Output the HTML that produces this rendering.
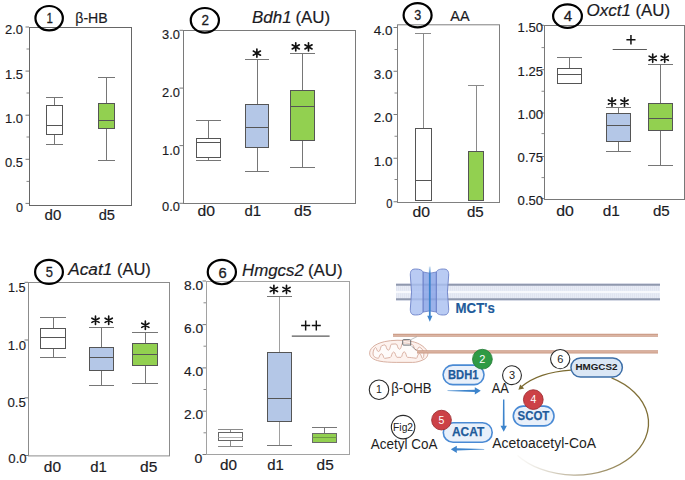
<!DOCTYPE html>
<html><head><meta charset="utf-8"><style>
html,body{margin:0;padding:0;background:#fff;overflow:hidden;width:685px;height:480px;}
svg{display:block;}
text{font-family:"Liberation Sans", sans-serif;} .pt text{stroke:#1b1b1f;stroke-width:0.18px;} .pt text.cn{stroke-width:0.3px;} .pt text.yl{stroke-width:0.15px;}
</style></head><body>
<svg width="685" height="480" viewBox="0 0 685 480">
<rect width="685" height="480" fill="#fff"/>
<g class="pt">
<rect x="29.5" y="27.5" width="102" height="178" fill="none" stroke="#666" stroke-width="1"/>
<line x1="25.5" y1="27" x2="29" y2="27" stroke="#7a7a7a" stroke-width="1"/>
<line x1="25.5" y1="71.1" x2="29" y2="71.1" stroke="#7a7a7a" stroke-width="1"/>
<line x1="25.5" y1="115.2" x2="29" y2="115.2" stroke="#7a7a7a" stroke-width="1"/>
<line x1="25.5" y1="159.3" x2="29" y2="159.3" stroke="#7a7a7a" stroke-width="1"/>
<line x1="25.5" y1="203.4" x2="29" y2="203.4" stroke="#7a7a7a" stroke-width="1"/>
<line x1="26.5" y1="49" x2="29" y2="49" stroke="#8a8a8a" stroke-width="1"/>
<line x1="26.5" y1="93" x2="29" y2="93" stroke="#8a8a8a" stroke-width="1"/>
<line x1="26.5" y1="137" x2="29" y2="137" stroke="#8a8a8a" stroke-width="1"/>
<line x1="26.5" y1="181.4" x2="29" y2="181.4" stroke="#8a8a8a" stroke-width="1"/>
<text x="5.00" y="34.10" font-size="12.6" class="yl" textLength="18.00" lengthAdjust="spacingAndGlyphs" fill="#1b1b1f">2.0</text>
<text x="5.00" y="78.50" font-size="12.6" class="yl" textLength="18.00" lengthAdjust="spacingAndGlyphs" fill="#1b1b1f">1.5</text>
<text x="5.00" y="122.90" font-size="12.6" class="yl" textLength="18.00" lengthAdjust="spacingAndGlyphs" fill="#1b1b1f">1.0</text>
<text x="5.00" y="167.20" font-size="12.6" class="yl" textLength="18.00" lengthAdjust="spacingAndGlyphs" fill="#1b1b1f">0.5</text>
<text x="16.00" y="211.60" font-size="12.6" class="yl" textLength="7.00" lengthAdjust="spacingAndGlyphs" fill="#1b1b1f">0</text>
<text x="44.60" y="220.00" font-size="14" textLength="16.70" lengthAdjust="spacingAndGlyphs" fill="#1b1b1f">d0</text>
<text x="98.70" y="220.00" font-size="14" textLength="16.30" lengthAdjust="spacingAndGlyphs" fill="#1b1b1f">d5</text>
<ellipse cx="49.15" cy="18.2" rx="13.7" ry="12.2" fill="none" stroke="#000" stroke-width="2.2"/>
<text x="46.40" y="23.10" font-size="15.5" class="cn" textLength="6.40" lengthAdjust="spacingAndGlyphs" fill="#1b1b1f">1</text>
<text x="75.30" y="23.10" font-size="14" textLength="32.40" lengthAdjust="spacingAndGlyphs" fill="#1b1b1f">β-HB</text>
<line x1="54.5" y1="97.5" x2="54.5" y2="105.5" stroke="#767676" stroke-width="1"/>
<line x1="46.0" y1="97.5" x2="63.0" y2="97.5" stroke="#767676" stroke-width="1"/>
<line x1="54.5" y1="134.5" x2="54.5" y2="144.5" stroke="#767676" stroke-width="1"/>
<line x1="46.0" y1="144.5" x2="63.0" y2="144.5" stroke="#767676" stroke-width="1"/>
<rect x="46.5" y="105.5" width="16.0" height="29.0" fill="#fff" stroke="#555555" stroke-width="1"/>
<line x1="46.5" y1="125.5" x2="62.5" y2="125.5" stroke="#555555" stroke-width="1"/>
<line x1="106.5" y1="77.5" x2="106.5" y2="103.5" stroke="#767676" stroke-width="1"/>
<line x1="98.0" y1="77.5" x2="115.0" y2="77.5" stroke="#767676" stroke-width="1"/>
<line x1="106.5" y1="128.5" x2="106.5" y2="160.5" stroke="#767676" stroke-width="1"/>
<line x1="98.0" y1="160.5" x2="115.0" y2="160.5" stroke="#767676" stroke-width="1"/>
<rect x="98.5" y="103.5" width="16.0" height="25.0" fill="#92d050" stroke="#555555" stroke-width="1"/>
<line x1="98.5" y1="120.5" x2="114.5" y2="120.5" stroke="#555555" stroke-width="1"/>
<rect x="183.5" y="30.5" width="172" height="173" fill="none" stroke="#7a7a7a" stroke-width="1"/>
<line x1="179.5" y1="30.3" x2="183" y2="30.3" stroke="#7a7a7a" stroke-width="1"/>
<line x1="179.5" y1="88.1" x2="183" y2="88.1" stroke="#7a7a7a" stroke-width="1"/>
<line x1="179.5" y1="145.6" x2="183" y2="145.6" stroke="#7a7a7a" stroke-width="1"/>
<line x1="179.5" y1="203.3" x2="183" y2="203.3" stroke="#7a7a7a" stroke-width="1"/>
<text x="162.10" y="38.80" font-size="12.6" class="yl" textLength="17.90" lengthAdjust="spacingAndGlyphs" fill="#1b1b1f">3.0</text>
<text x="162.10" y="96.80" font-size="12.6" class="yl" textLength="17.90" lengthAdjust="spacingAndGlyphs" fill="#1b1b1f">2.0</text>
<text x="162.10" y="154.60" font-size="12.6" class="yl" textLength="17.90" lengthAdjust="spacingAndGlyphs" fill="#1b1b1f">1.0</text>
<text x="162.10" y="210.80" font-size="12.6" class="yl" textLength="17.90" lengthAdjust="spacingAndGlyphs" fill="#1b1b1f">0.0</text>
<text x="197.50" y="215.60" font-size="14" textLength="17.50" lengthAdjust="spacingAndGlyphs" fill="#1b1b1f">d0</text>
<text x="244.40" y="215.60" font-size="14" textLength="16.60" lengthAdjust="spacingAndGlyphs" fill="#1b1b1f">d1</text>
<text x="294.00" y="215.60" font-size="14" textLength="17.60" lengthAdjust="spacingAndGlyphs" fill="#1b1b1f">d5</text>
<ellipse cx="204.85" cy="20.3" rx="14.1" ry="12.3" fill="none" stroke="#000" stroke-width="2.2"/>
<text x="201.40" y="25.20" font-size="15.5" class="cn" textLength="7.50" lengthAdjust="spacingAndGlyphs" fill="#1b1b1f">2</text>
<text x="252.10" y="23.40" font-size="16" textLength="39.50" lengthAdjust="spacingAndGlyphs" font-style="italic" fill="#1b1b1f">Bdh1</text>
<text x="295.40" y="23.40" font-size="16" textLength="34.70" lengthAdjust="spacingAndGlyphs" fill="#1b1b1f">(AU)</text>
<line x1="208.5" y1="120.5" x2="208.5" y2="138.5" stroke="#767676" stroke-width="1"/>
<line x1="196.0" y1="120.5" x2="221.0" y2="120.5" stroke="#767676" stroke-width="1"/>
<line x1="208.5" y1="157.5" x2="208.5" y2="160.5" stroke="#767676" stroke-width="1"/>
<line x1="196.0" y1="160.5" x2="221.0" y2="160.5" stroke="#767676" stroke-width="1"/>
<rect x="196.5" y="138.5" width="24.0" height="19.0" fill="#fff" stroke="#555555" stroke-width="1"/>
<line x1="196.5" y1="142.5" x2="220.5" y2="142.5" stroke="#555555" stroke-width="1"/>
<line x1="257.5" y1="59.5" x2="257.5" y2="104.5" stroke="#767676" stroke-width="1"/>
<line x1="245.0" y1="59.5" x2="269.0" y2="59.5" stroke="#767676" stroke-width="1"/>
<line x1="257.5" y1="147.5" x2="257.5" y2="171.5" stroke="#767676" stroke-width="1"/>
<line x1="245.0" y1="171.5" x2="269.0" y2="171.5" stroke="#767676" stroke-width="1"/>
<rect x="245.5" y="104.5" width="23.0" height="43.0" fill="#b4c7e7" stroke="#555555" stroke-width="1"/>
<line x1="245.5" y1="127.5" x2="268.5" y2="127.5" stroke="#555555" stroke-width="1"/>
<line x1="302.5" y1="53.5" x2="302.5" y2="90.5" stroke="#767676" stroke-width="1"/>
<line x1="290.0" y1="53.5" x2="315.0" y2="53.5" stroke="#767676" stroke-width="1"/>
<line x1="302.5" y1="140.5" x2="302.5" y2="167.5" stroke="#767676" stroke-width="1"/>
<line x1="290.0" y1="167.5" x2="315.0" y2="167.5" stroke="#767676" stroke-width="1"/>
<rect x="290.5" y="90.5" width="24.0" height="50.0" fill="#92d050" stroke="#555555" stroke-width="1"/>
<line x1="290.5" y1="106.5" x2="314.5" y2="106.5" stroke="#555555" stroke-width="1"/>
<path d="M256.88,48.98L256.88,57.27M253.28,51.05L260.47,55.20M260.47,51.05L253.28,55.20" stroke="#111" stroke-width="1.65" stroke-linecap="round" fill="none"/>
<path d="M295.75,42.73L295.75,51.02M292.16,44.80L299.34,48.95M299.34,44.80L292.16,48.95" stroke="#111" stroke-width="1.65" stroke-linecap="round" fill="none"/>
<path d="M308.50,42.73L308.50,51.02M304.91,44.80L312.09,48.95M312.09,44.80L304.91,48.95" stroke="#111" stroke-width="1.65" stroke-linecap="round" fill="none"/>
<rect x="397.5" y="24.8" width="102" height="177.7" fill="none" stroke="#808080" stroke-width="1"/>
<line x1="393.5" y1="27.5" x2="397" y2="27.5" stroke="#7a7a7a" stroke-width="1"/>
<line x1="393.5" y1="71.25" x2="397" y2="71.25" stroke="#7a7a7a" stroke-width="1"/>
<line x1="393.5" y1="114.5" x2="397" y2="114.5" stroke="#7a7a7a" stroke-width="1"/>
<line x1="393.5" y1="158.25" x2="397" y2="158.25" stroke="#7a7a7a" stroke-width="1"/>
<line x1="393.5" y1="201.75" x2="397" y2="201.75" stroke="#7a7a7a" stroke-width="1"/>
<line x1="394.5" y1="49.5" x2="397" y2="49.5" stroke="#8a8a8a" stroke-width="1"/>
<line x1="394.5" y1="93" x2="397" y2="93" stroke="#8a8a8a" stroke-width="1"/>
<line x1="394.5" y1="136.25" x2="397" y2="136.25" stroke="#8a8a8a" stroke-width="1"/>
<line x1="394.5" y1="179.5" x2="397" y2="179.5" stroke="#8a8a8a" stroke-width="1"/>
<text x="373.75" y="35.10" font-size="12.6" class="yl" textLength="18.75" lengthAdjust="spacingAndGlyphs" fill="#1b1b1f">4.0</text>
<text x="373.75" y="79.10" font-size="12.6" class="yl" textLength="18.75" lengthAdjust="spacingAndGlyphs" fill="#1b1b1f">3.0</text>
<text x="373.75" y="122.10" font-size="12.6" class="yl" textLength="18.75" lengthAdjust="spacingAndGlyphs" fill="#1b1b1f">2.0</text>
<text x="373.75" y="165.85" font-size="12.6" class="yl" textLength="18.75" lengthAdjust="spacingAndGlyphs" fill="#1b1b1f">1.0</text>
<text x="386.25" y="208.35" font-size="12.6" class="yl" textLength="6.25" lengthAdjust="spacingAndGlyphs" fill="#1b1b1f">0</text>
<text x="412.50" y="217.00" font-size="14" textLength="17.50" lengthAdjust="spacingAndGlyphs" fill="#1b1b1f">d0</text>
<text x="467.00" y="217.00" font-size="14" textLength="16.75" lengthAdjust="spacingAndGlyphs" fill="#1b1b1f">d5</text>
<ellipse cx="417.6" cy="15.25" rx="14.0" ry="12.1" fill="none" stroke="#000" stroke-width="2.2"/>
<text x="414.30" y="20.10" font-size="15.5" class="cn" textLength="7.00" lengthAdjust="spacingAndGlyphs" fill="#1b1b1f">3</text>
<text x="450.30" y="20.80" font-size="15" textLength="19.30" lengthAdjust="spacingAndGlyphs" fill="#1b1b1f">AA</text>
<line x1="423.5" y1="33.5" x2="423.5" y2="128.5" stroke="#8a8a8a" stroke-width="1"/>
<line x1="415.0" y1="33.5" x2="431.0" y2="33.5" stroke="#8a8a8a" stroke-width="1"/>
<rect x="415.5" y="128.5" width="16.0" height="72.0" fill="#fff" stroke="#555555" stroke-width="1"/>
<line x1="415.5" y1="180.5" x2="431.5" y2="180.5" stroke="#555555" stroke-width="1"/>
<line x1="476.5" y1="85.5" x2="476.5" y2="151.5" stroke="#8a8a8a" stroke-width="1"/>
<line x1="468.0" y1="85.5" x2="484.0" y2="85.5" stroke="#8a8a8a" stroke-width="1"/>
<rect x="468.5" y="151.5" width="15.0" height="49.0" fill="#92d050" stroke="#555555" stroke-width="1"/>
<rect x="544.5" y="25.5" width="140" height="174" fill="none" stroke="#787878" stroke-width="1"/>
<line x1="540.5" y1="25.3" x2="544" y2="25.3" stroke="#7a7a7a" stroke-width="1"/>
<line x1="540.5" y1="69.7" x2="544" y2="69.7" stroke="#7a7a7a" stroke-width="1"/>
<line x1="540.5" y1="113" x2="544" y2="113" stroke="#7a7a7a" stroke-width="1"/>
<line x1="540.5" y1="156.5" x2="544" y2="156.5" stroke="#7a7a7a" stroke-width="1"/>
<line x1="540.5" y1="198.6" x2="544" y2="198.6" stroke="#7a7a7a" stroke-width="1"/>
<line x1="541.5" y1="47.6" x2="544" y2="47.6" stroke="#8a8a8a" stroke-width="1"/>
<line x1="541.5" y1="91.25" x2="544" y2="91.25" stroke="#8a8a8a" stroke-width="1"/>
<line x1="541.5" y1="133.6" x2="544" y2="133.6" stroke="#8a8a8a" stroke-width="1"/>
<line x1="541.5" y1="177.6" x2="544" y2="177.6" stroke="#8a8a8a" stroke-width="1"/>
<text x="517.60" y="32.10" font-size="12.6" class="yl" textLength="25.50" lengthAdjust="spacingAndGlyphs" fill="#1b1b1f">1.50</text>
<text x="517.60" y="76.10" font-size="12.6" class="yl" textLength="25.50" lengthAdjust="spacingAndGlyphs" fill="#1b1b1f">1.25</text>
<text x="517.60" y="118.60" font-size="12.6" class="yl" textLength="25.50" lengthAdjust="spacingAndGlyphs" fill="#1b1b1f">1.00</text>
<text x="517.60" y="162.10" font-size="12.6" class="yl" textLength="25.50" lengthAdjust="spacingAndGlyphs" fill="#1b1b1f">0.75</text>
<text x="517.60" y="205.20" font-size="12.6" class="yl" textLength="25.50" lengthAdjust="spacingAndGlyphs" fill="#1b1b1f">0.50</text>
<text x="556.20" y="215.60" font-size="14" textLength="17.60" lengthAdjust="spacingAndGlyphs" fill="#1b1b1f">d0</text>
<text x="602.70" y="215.60" font-size="14" textLength="17.10" lengthAdjust="spacingAndGlyphs" fill="#1b1b1f">d1</text>
<text x="652.90" y="215.60" font-size="14" textLength="16.80" lengthAdjust="spacingAndGlyphs" fill="#1b1b1f">d5</text>
<ellipse cx="567.5" cy="16.1" rx="14.4" ry="11.8" fill="none" stroke="#000" stroke-width="2.2"/>
<text x="563.70" y="21.40" font-size="15.5" class="cn" textLength="8.40" lengthAdjust="spacingAndGlyphs" fill="#1b1b1f">4</text>
<text x="586.50" y="16.20" font-size="16" textLength="44.50" lengthAdjust="spacingAndGlyphs" font-style="italic" fill="#1b1b1f">Oxct1</text>
<text x="635.40" y="16.20" font-size="16" textLength="34.60" lengthAdjust="spacingAndGlyphs" fill="#1b1b1f">(AU)</text>
<line x1="569.5" y1="57.5" x2="569.5" y2="68.5" stroke="#767676" stroke-width="1"/>
<line x1="557.0" y1="57.5" x2="582.0" y2="57.5" stroke="#767676" stroke-width="1"/>
<rect x="557.5" y="68.5" width="24.0" height="15.0" fill="#fff" stroke="#555555" stroke-width="1"/>
<line x1="557.5" y1="74.5" x2="581.5" y2="74.5" stroke="#555555" stroke-width="1"/>
<line x1="618.5" y1="107.5" x2="618.5" y2="113.5" stroke="#767676" stroke-width="1"/>
<line x1="606.0" y1="107.5" x2="631.0" y2="107.5" stroke="#767676" stroke-width="1"/>
<line x1="618.5" y1="141.5" x2="618.5" y2="151.5" stroke="#767676" stroke-width="1"/>
<line x1="606.0" y1="151.5" x2="631.0" y2="151.5" stroke="#767676" stroke-width="1"/>
<rect x="606.5" y="113.5" width="24.0" height="28.0" fill="#b4c7e7" stroke="#555555" stroke-width="1"/>
<line x1="606.5" y1="125.5" x2="630.5" y2="125.5" stroke="#555555" stroke-width="1"/>
<line x1="660.5" y1="64.5" x2="660.5" y2="103.5" stroke="#767676" stroke-width="1"/>
<line x1="648.0" y1="64.5" x2="673.0" y2="64.5" stroke="#767676" stroke-width="1"/>
<line x1="660.5" y1="130.5" x2="660.5" y2="165.5" stroke="#767676" stroke-width="1"/>
<line x1="648.0" y1="165.5" x2="673.0" y2="165.5" stroke="#767676" stroke-width="1"/>
<rect x="648.5" y="103.5" width="24.0" height="27.0" fill="#92d050" stroke="#555555" stroke-width="1"/>
<line x1="648.5" y1="118.5" x2="672.5" y2="118.5" stroke="#555555" stroke-width="1"/>
<path d="M612.00,97.90L612.00,106.20M608.41,99.98L615.59,104.13M615.59,99.98L608.41,104.13" stroke="#111" stroke-width="1.65" stroke-linecap="round" fill="none"/>
<path d="M624.50,97.90L624.50,106.20M620.91,99.98L628.09,104.13M628.09,99.98L620.91,104.13" stroke="#111" stroke-width="1.65" stroke-linecap="round" fill="none"/>
<path d="M652.70,54.05L652.70,62.35M649.11,56.12L656.29,60.28M656.29,56.12L649.11,60.28" stroke="#111" stroke-width="1.65" stroke-linecap="round" fill="none"/>
<path d="M664.70,54.05L664.70,62.35M661.11,56.12L668.29,60.28M668.29,56.12L661.11,60.28" stroke="#111" stroke-width="1.65" stroke-linecap="round" fill="none"/>
<path d="M626.4,39.75H635.5M630.95,35V44.5" stroke="#111" stroke-width="1.5" fill="none"/>
<line x1="612.7" y1="49.5" x2="646.9" y2="49.5" stroke="#5a5a5a" stroke-width="1"/>
<rect x="28.5" y="282.5" width="141" height="173.39999999999998" fill="none" stroke="#8c8c8c" stroke-width="1"/>
<line x1="24.5" y1="282.3" x2="28" y2="282.3" stroke="#7a7a7a" stroke-width="1"/>
<line x1="24.5" y1="340" x2="28" y2="340" stroke="#7a7a7a" stroke-width="1"/>
<line x1="24.5" y1="397.8" x2="28" y2="397.8" stroke="#7a7a7a" stroke-width="1"/>
<line x1="24.5" y1="455.5" x2="28" y2="455.5" stroke="#7a7a7a" stroke-width="1"/>
<text x="8.00" y="291.80" font-size="13.4" class="yl" textLength="17.60" lengthAdjust="spacingAndGlyphs" fill="#1b1b1f">1.5</text>
<text x="7.80" y="349.90" font-size="13.4" class="yl" textLength="18.20" lengthAdjust="spacingAndGlyphs" fill="#1b1b1f">1.0</text>
<text x="7.50" y="407.20" font-size="13.4" class="yl" textLength="18.40" lengthAdjust="spacingAndGlyphs" fill="#1b1b1f">0.5</text>
<text x="8.30" y="463.40" font-size="13.4" class="yl" textLength="18.40" lengthAdjust="spacingAndGlyphs" fill="#1b1b1f">0.0</text>
<text x="43.80" y="472.30" font-size="14" textLength="17.20" lengthAdjust="spacingAndGlyphs" fill="#1b1b1f">d0</text>
<text x="90.20" y="472.30" font-size="14" textLength="16.60" lengthAdjust="spacingAndGlyphs" fill="#1b1b1f">d1</text>
<text x="140.00" y="472.30" font-size="14" textLength="17.30" lengthAdjust="spacingAndGlyphs" fill="#1b1b1f">d5</text>
<ellipse cx="49" cy="271.9" rx="13.9" ry="12.1" fill="none" stroke="#000" stroke-width="2.2"/>
<text x="45.80" y="276.90" font-size="15.5" class="cn" textLength="7.20" lengthAdjust="spacingAndGlyphs" fill="#1b1b1f">5</text>
<text x="68.30" y="275.10" font-size="16" textLength="44.00" lengthAdjust="spacingAndGlyphs" font-style="italic" fill="#1b1b1f">Acat1</text>
<text x="116.90" y="275.10" font-size="16" textLength="33.90" lengthAdjust="spacingAndGlyphs" fill="#1b1b1f">(AU)</text>
<line x1="53.5" y1="317.5" x2="53.5" y2="328.5" stroke="#767676" stroke-width="1"/>
<line x1="40.0" y1="317.5" x2="66.0" y2="317.5" stroke="#767676" stroke-width="1"/>
<line x1="53.5" y1="348.5" x2="53.5" y2="357.5" stroke="#767676" stroke-width="1"/>
<line x1="40.0" y1="357.5" x2="66.0" y2="357.5" stroke="#767676" stroke-width="1"/>
<rect x="40.5" y="328.5" width="25.0" height="20.0" fill="#fff" stroke="#555555" stroke-width="1"/>
<line x1="40.5" y1="337.5" x2="65.5" y2="337.5" stroke="#555555" stroke-width="1"/>
<line x1="101.5" y1="327.5" x2="101.5" y2="347.5" stroke="#767676" stroke-width="1"/>
<line x1="89.0" y1="327.5" x2="114.0" y2="327.5" stroke="#767676" stroke-width="1"/>
<line x1="101.5" y1="370.5" x2="101.5" y2="385.5" stroke="#767676" stroke-width="1"/>
<line x1="89.0" y1="385.5" x2="114.0" y2="385.5" stroke="#767676" stroke-width="1"/>
<rect x="89.5" y="347.5" width="24.0" height="23.0" fill="#b4c7e7" stroke="#555555" stroke-width="1"/>
<line x1="89.5" y1="357.5" x2="113.5" y2="357.5" stroke="#555555" stroke-width="1"/>
<line x1="145.5" y1="332.5" x2="145.5" y2="343.5" stroke="#767676" stroke-width="1"/>
<line x1="132.0" y1="332.5" x2="158.0" y2="332.5" stroke="#767676" stroke-width="1"/>
<line x1="145.5" y1="365.5" x2="145.5" y2="383.5" stroke="#767676" stroke-width="1"/>
<line x1="132.0" y1="383.5" x2="158.0" y2="383.5" stroke="#767676" stroke-width="1"/>
<rect x="132.5" y="343.5" width="25.0" height="22.0" fill="#92d050" stroke="#555555" stroke-width="1"/>
<line x1="132.5" y1="354.5" x2="157.5" y2="354.5" stroke="#555555" stroke-width="1"/>
<path d="M95.50,316.15L95.50,324.45M91.91,318.22L99.09,322.37M99.09,318.22L91.91,322.37" stroke="#111" stroke-width="1.65" stroke-linecap="round" fill="none"/>
<path d="M108.70,316.15L108.70,324.45M105.11,318.22L112.29,322.37M112.29,318.22L105.11,322.37" stroke="#111" stroke-width="1.65" stroke-linecap="round" fill="none"/>
<path d="M145.35,321.15L145.35,329.45M141.76,323.22L148.94,327.37M148.94,323.22L141.76,327.37" stroke="#111" stroke-width="1.65" stroke-linecap="round" fill="none"/>
<rect x="206.5" y="281.5" width="143" height="173" fill="none" stroke="#a2a2a2" stroke-width="1"/>
<line x1="202.5" y1="281" x2="206" y2="281" stroke="#7a7a7a" stroke-width="1"/>
<line x1="202.5" y1="324.6" x2="206" y2="324.6" stroke="#7a7a7a" stroke-width="1"/>
<line x1="202.5" y1="367.9" x2="206" y2="367.9" stroke="#7a7a7a" stroke-width="1"/>
<line x1="202.5" y1="411.2" x2="206" y2="411.2" stroke="#7a7a7a" stroke-width="1"/>
<line x1="202.5" y1="454.5" x2="206" y2="454.5" stroke="#7a7a7a" stroke-width="1"/>
<line x1="203.5" y1="302.8" x2="206" y2="302.8" stroke="#8a8a8a" stroke-width="1"/>
<line x1="203.5" y1="346.2" x2="206" y2="346.2" stroke="#8a8a8a" stroke-width="1"/>
<line x1="203.5" y1="389.5" x2="206" y2="389.5" stroke="#8a8a8a" stroke-width="1"/>
<line x1="203.5" y1="432.8" x2="206" y2="432.8" stroke="#8a8a8a" stroke-width="1"/>
<text x="184.00" y="289.60" font-size="12.6" class="yl" textLength="19.10" lengthAdjust="spacingAndGlyphs" fill="#1b1b1f">8.0</text>
<text x="184.00" y="332.85" font-size="12.6" class="yl" textLength="19.10" lengthAdjust="spacingAndGlyphs" fill="#1b1b1f">6.0</text>
<text x="184.00" y="376.10" font-size="12.6" class="yl" textLength="19.10" lengthAdjust="spacingAndGlyphs" fill="#1b1b1f">4.0</text>
<text x="184.00" y="419.35" font-size="12.6" class="yl" textLength="19.10" lengthAdjust="spacingAndGlyphs" fill="#1b1b1f">2.0</text>
<text x="194.50" y="462.60" font-size="12.6" class="yl" textLength="7.80" lengthAdjust="spacingAndGlyphs" fill="#1b1b1f">0</text>
<text x="220.00" y="470.40" font-size="14" textLength="17.00" lengthAdjust="spacingAndGlyphs" fill="#1b1b1f">d0</text>
<text x="267.20" y="470.40" font-size="14" textLength="16.60" lengthAdjust="spacingAndGlyphs" fill="#1b1b1f">d1</text>
<text x="316.60" y="470.40" font-size="14" textLength="17.10" lengthAdjust="spacingAndGlyphs" fill="#1b1b1f">d5</text>
<ellipse cx="221.85" cy="272.05" rx="14.1" ry="12.2" fill="none" stroke="#000" stroke-width="2.2"/>
<text x="218.40" y="278.00" font-size="15.5" class="cn" textLength="8.20" lengthAdjust="spacingAndGlyphs" fill="#1b1b1f">6</text>
<text x="242.00" y="275.80" font-size="16" textLength="61.80" lengthAdjust="spacingAndGlyphs" font-style="italic" fill="#1b1b1f">Hmgcs2</text>
<text x="307.90" y="275.80" font-size="16" textLength="34.70" lengthAdjust="spacingAndGlyphs" fill="#1b1b1f">(AU)</text>
<line x1="230.5" y1="429.5" x2="230.5" y2="432.5" stroke="#8a8a8a" stroke-width="1"/>
<line x1="218.0" y1="429.5" x2="243.0" y2="429.5" stroke="#8a8a8a" stroke-width="1"/>
<line x1="230.5" y1="440.5" x2="230.5" y2="446.5" stroke="#8a8a8a" stroke-width="1"/>
<line x1="218.0" y1="446.5" x2="243.0" y2="446.5" stroke="#8a8a8a" stroke-width="1"/>
<rect x="218.5" y="432.5" width="24.0" height="8.0" fill="#fff" stroke="#666" stroke-width="1"/>
<line x1="218.5" y1="437.5" x2="242.5" y2="437.5" stroke="#b0b0b0" stroke-width="1"/>
<line x1="279.5" y1="296.5" x2="279.5" y2="352.5" stroke="#a0a0a0" stroke-width="1"/>
<line x1="267.0" y1="296.5" x2="292.0" y2="296.5" stroke="#767676" stroke-width="1"/>
<line x1="279.5" y1="421.5" x2="279.5" y2="445.5" stroke="#a0a0a0" stroke-width="1"/>
<line x1="267.0" y1="445.5" x2="292.0" y2="445.5" stroke="#767676" stroke-width="1"/>
<rect x="267.5" y="352.5" width="24.0" height="69.0" fill="#b4c7e7" stroke="#555555" stroke-width="1"/>
<line x1="267.5" y1="398.5" x2="291.5" y2="398.5" stroke="#555555" stroke-width="1"/>
<line x1="324.5" y1="427.5" x2="324.5" y2="433.5" stroke="#777" stroke-width="1"/>
<line x1="312.0" y1="427.5" x2="337.0" y2="427.5" stroke="#777" stroke-width="1"/>
<rect x="312.5" y="433.5" width="24.0" height="9.0" fill="#92d050" stroke="#6a6a6a" stroke-width="1"/>
<line x1="312.5" y1="437.5" x2="336.5" y2="437.5" stroke="#6f9a45" stroke-width="1"/>
<path d="M273.90,285.30L273.90,293.60M270.31,287.38L277.49,291.53M277.49,287.38L270.31,291.53" stroke="#111" stroke-width="1.65" stroke-linecap="round" fill="none"/>
<path d="M286.50,285.30L286.50,293.60M282.91,287.38L290.09,291.53M290.09,287.38L282.91,291.53" stroke="#111" stroke-width="1.65" stroke-linecap="round" fill="none"/>
<path d="M301.1,325.45H310.2M305.65,320.4V330.5" stroke="#111" stroke-width="1.45" fill="none"/>
<path d="M311.8,325.45H320.8M316.3,320.4V330.5" stroke="#111" stroke-width="1.45" fill="none"/>
<line x1="291.8" y1="336.1" x2="329.6" y2="336.1" stroke="#5a5a5a" stroke-width="1.1"/>
</g>
<defs><linearGradient id="lg" gradientUnits="userSpaceOnUse" x1="515" y1="460" x2="650" y2="400"><stop offset="0" stop-color="#c8c0ad" stop-opacity="0"/><stop offset="0.35" stop-color="#b3a88c"/><stop offset="0.75" stop-color="#8a7a45"/><stop offset="1" stop-color="#7b6a30"/></linearGradient><linearGradient id="ag" gradientUnits="userSpaceOnUse" x1="0" y1="266" x2="0" y2="300"><stop offset="0" stop-color="#3d84cc" stop-opacity="0.15"/><stop offset="0.25" stop-color="#3d84cc"/></linearGradient></defs>
<rect x="396" y="283.3" width="264" height="17.5" fill="#e8ecf6"/>
<line x1="396" y1="292" x2="660" y2="292" stroke="#f8f9fd" stroke-width="1.8"/>
<line x1="396" y1="288.3" x2="660" y2="288.3" stroke="#dde2ef" stroke-width="4.5" stroke-dasharray="0.8 1.2" stroke-opacity="0.8"/>
<line x1="396" y1="295.7" x2="660" y2="295.7" stroke="#dde2ef" stroke-width="4.5" stroke-dasharray="0.8 1.2" stroke-opacity="0.8"/>
<line x1="396" y1="284.7" x2="660" y2="284.7" stroke="#9099ae" stroke-width="2.1"/>
<line x1="396" y1="299.2" x2="660" y2="299.2" stroke="#9099ae" stroke-width="2.1"/>
<path d="M415.5,269 C420,269 422,270 423.2,272 L423.2,312 C422,314 420,315 415.5,315 C411.5,315 410.3,313 410.3,309 C410.3,303 411.6,298 411.6,292 C411.6,286 410.3,281 410.3,275 C410.3,271 411.5,269 415.5,269 Z" fill="#a9bff0" fill-opacity="0.82" stroke="#6d82c8" stroke-width="0.9"/>
<path d="M443.5,269 C439,269 437.3,270 436.3,272 L436.3,312 C437.3,314 439,315 443.5,315 C447.5,315 448.7,313 448.7,309 C448.7,303 447.4,298 447.4,292 C447.4,286 448.7,281 448.7,275 C448.7,271 447.5,269 443.5,269 Z" fill="#a9bff0" fill-opacity="0.82" stroke="#6d82c8" stroke-width="0.9"/>
<path d="M423.2,272 Q429.8,274.5 436.3,272 L436.3,312 Q429.8,309.8 423.2,312 Z" fill="#89a4e6" fill-opacity="0.85" stroke="#6d82c8" stroke-width="0.9"/>
<line x1="429.8" y1="266.5" x2="429.8" y2="316.5" stroke="url(#ag)" stroke-width="1.8"/>
<polygon points="429.8,321.8 427.2,315.8 432.4,315.8" fill="#3d84cc"/>
<text x="455.60" y="312.70" font-size="15.2" stroke="#1e5b9b" stroke-width="0.2" textLength="39.20" lengthAdjust="spacingAndGlyphs" font-weight="bold" fill="#1e5b9b">MCT's</text>
<line x1="393" y1="335.3" x2="658" y2="335.3" stroke="#c99883" stroke-width="3"/>
<line x1="393" y1="335.3" x2="658" y2="335.3" stroke="#e0bcaa" stroke-width="1"/>
<path d="M369.7,354.2 C369,349 374,344 384.7,341.6 C392,340 402,339.8 409.9,341.1 C416,342 424,345 427.7,351.9 C428.5,356 426,358.5 424,359.4 C420,361.5 416,362.4 412.7,362.4 L396.8,362.4 C390,362.4 384,362 380,361.2 C373,359.8 370,357 369.7,354.2 Z" fill="#fdf2ee" stroke="#d3a797" stroke-width="0.9"/>
<path d="M373,354 C373,351 374,348.5 375.5,347.5 C376.60,347.50 376.60,351.50 378.60,351.50 C380.60,351.50 380.60,345.80 381.60,345.80 C383,345.2 384,345 385,344.9 C386.30,344.90 386.30,350.20 388.30,350.20 C390.30,350.20 390.30,344.20 391.50,344.20 C393.5,344 395,344 396.2,344 C397.50,344.00 397.50,349.20 399.50,349.20 C401.50,349.20 401.50,343.00 402.70,343.00 C406.5,342.8 410,343.6 412.6,344.8 C414.00,344.80 414.00,350.20 416.00,350.20 C418.00,350.20 418.00,347.00 419.20,347.00 C421.5,347.8 423.6,350.5 423.8,353.2 C424,355.6 423.6,357.6 422.4,358.5 C421.40,358.50 421.40,353.60 419.40,353.60 C417.40,353.60 417.40,358.30 416.40,358.30 C413,357.8 409.5,357.4 407.4,357.3 C406.20,357.30 406.20,351.80 404.20,351.80 C402.20,351.80 402.20,357.30 401.00,357.30 L397,357.3 C395.60,357.30 395.60,352.00 393.60,352.00 C391.60,352.00 391.60,357.50 390.20,357.50 C388,357.8 386,358.2 384.6,358.4 C383.40,358.40 383.40,353.80 381.40,353.80 C379.40,353.80 379.40,358.30 378.20,358.30 C376,358 374.2,357 373.5,355.8 Z" fill="#fefbfa" stroke="#d3a797" stroke-width="0.85"/>
<line x1="417" y1="351.9" x2="658" y2="351.9" stroke="#c99883" stroke-width="3.2"/>
<line x1="417" y1="351.9" x2="658" y2="351.9" stroke="#dfb9a7" stroke-width="1.1"/>
<rect x="402.7" y="339.6" width="8" height="5.5" rx="1" fill="#f6eeea" fill-opacity="0.35" stroke="#5d6266" stroke-width="0.9"/>
<line x1="410.8" y1="339.7" x2="417" y2="336.6" stroke="#9a9a9a" stroke-width="0.6"/>
<line x1="410.2" y1="345" x2="416.8" y2="350.6" stroke="#6a6e72" stroke-width="0.9" stroke-dasharray="1.2 0.8"/>
<path d="M611.5,377.9 A73.5,52 0 1,1 517.5,455.4" fill="none" stroke="url(#lg)" stroke-width="1.3"/>
<path d="M571,370.2 C552,371.5 533,377 521.5,386.8" fill="none" stroke="#7b6a30" stroke-width="1.3"/>
<polygon points="518.4,389.8 520.2,384.4 524.2,388.4" fill="#7b6a30"/>
<rect x="443.1" y="365.1" width="40.9" height="19.499999999999964" rx="9.749999999999982" fill="#e9f0fa" stroke="#4a8ad4" stroke-width="1.6"/>
<text x="448.00" y="378.60" font-size="12" stroke="#1e5b9b" stroke-width="0.25" textLength="30.40" lengthAdjust="spacingAndGlyphs" font-weight="bold" fill="#1e5b9b">BDH1</text>
<rect x="513.3" y="406.1" width="40.69999999999995" height="19.799999999999976" rx="9.899999999999988" fill="#e9f0fa" stroke="#4a8ad4" stroke-width="1.6"/>
<text x="517.50" y="419.90" font-size="12.5" stroke="#1e5b9b" stroke-width="0.25" textLength="31.80" lengthAdjust="spacingAndGlyphs" font-weight="bold" fill="#1e5b9b">SCOT</text>
<rect x="570.95" y="357.95" width="51.39999999999998" height="19.100000000000023" rx="9.550000000000011" fill="#dbe7f5" stroke="#3d6fa8" stroke-width="1.5"/>
<text x="575.40" y="369.80" font-size="9.8" stroke="#1c1c1c" stroke-width="0.05" textLength="42.00" lengthAdjust="spacingAndGlyphs" font-weight="bold" fill="#1c1c1c">HMGCS2</text>
<rect x="443.3" y="422.7" width="48.9" height="19.50000000000002" rx="9.75000000000001" fill="#e9f0fa" stroke="#4a8ad4" stroke-width="1.6"/>
<text x="451.90" y="436.30" font-size="12.5" stroke="#1e5b9b" stroke-width="0.25" textLength="32.30" lengthAdjust="spacingAndGlyphs" font-weight="bold" fill="#1e5b9b">ACAT</text>
<circle cx="379" cy="389.7" r="9.75" fill="#fff" stroke="#2a2a2a" stroke-width="1.1"/>
<text x="379" y="393.48" font-size="10.5" text-anchor="middle" fill="#222">1</text>
<text x="391.20" y="392.90" font-size="14.5" textLength="40.40" lengthAdjust="spacingAndGlyphs" fill="#1e1e1e">β-OHB</text>
<circle cx="482.4" cy="359.2" r="9.9" fill="#2f9a44" stroke="#257a36" stroke-width="0.8"/>
<text x="482.4" y="363.16" font-size="11" text-anchor="middle" fill="#fff">2</text>
<polygon points="447.50,391.10 474.80,391.90 474.80,394.40 480.80,390.80 474.80,387.20 474.80,389.70 447.50,390.50" fill="#3d84cc"/>
<text x="491.80" y="393.40" font-size="14.5" textLength="17.10" lengthAdjust="spacingAndGlyphs" fill="#1e1e1e">AA</text>
<circle cx="512" cy="375.2" r="9.45" fill="#fff" stroke="#2a2a2a" stroke-width="1.1"/>
<text x="512" y="379.16" font-size="11" text-anchor="middle" fill="#222">3</text>
<circle cx="533.3" cy="399.6" r="9.850000000000001" fill="#cc4146" stroke="#9e2c31" stroke-width="0.9"/>
<text x="533.3" y="403.38" font-size="10.5" text-anchor="middle" fill="#fff">4</text>
<polygon points="503.00,399.40 502.80,425.80 500.50,425.80 503.70,431.80 506.90,425.80 504.60,425.80 504.40,399.40" fill="#3d84cc"/>
<circle cx="560.2" cy="359.1" r="9.649999999999999" fill="#fff" stroke="#2a2a2a" stroke-width="1.1"/>
<text x="560.2" y="363.06" font-size="11" text-anchor="middle" fill="#222">6</text>
<circle cx="403.1" cy="427.1" r="11.75" fill="#fff" stroke="#2a2a2a" stroke-width="1.1"/>
<text x="403.1" y="431.06" font-size="11" text-anchor="middle" fill="#222" textLength="20" lengthAdjust="spacingAndGlyphs">Fig2</text>
<text x="370.80" y="449.40" font-size="14" textLength="66.60" lengthAdjust="spacingAndGlyphs" fill="#1e1e1e">Acetyl CoA</text>
<circle cx="441.5" cy="420.1" r="9.850000000000001" fill="#cc4146" stroke="#9e2c31" stroke-width="0.9"/>
<text x="441.5" y="423.88" font-size="10.5" text-anchor="middle" fill="#fff">5</text>
<polygon points="484.20,449.00 456.80,448.20 456.80,445.70 450.80,449.30 456.80,452.90 456.80,450.40 484.20,449.60" fill="#3d84cc"/>
<text x="492.30" y="447.70" font-size="14" textLength="103.70" lengthAdjust="spacingAndGlyphs" fill="#1e1e1e">Acetoacetyl-CoA</text>
</svg>
</body></html>
